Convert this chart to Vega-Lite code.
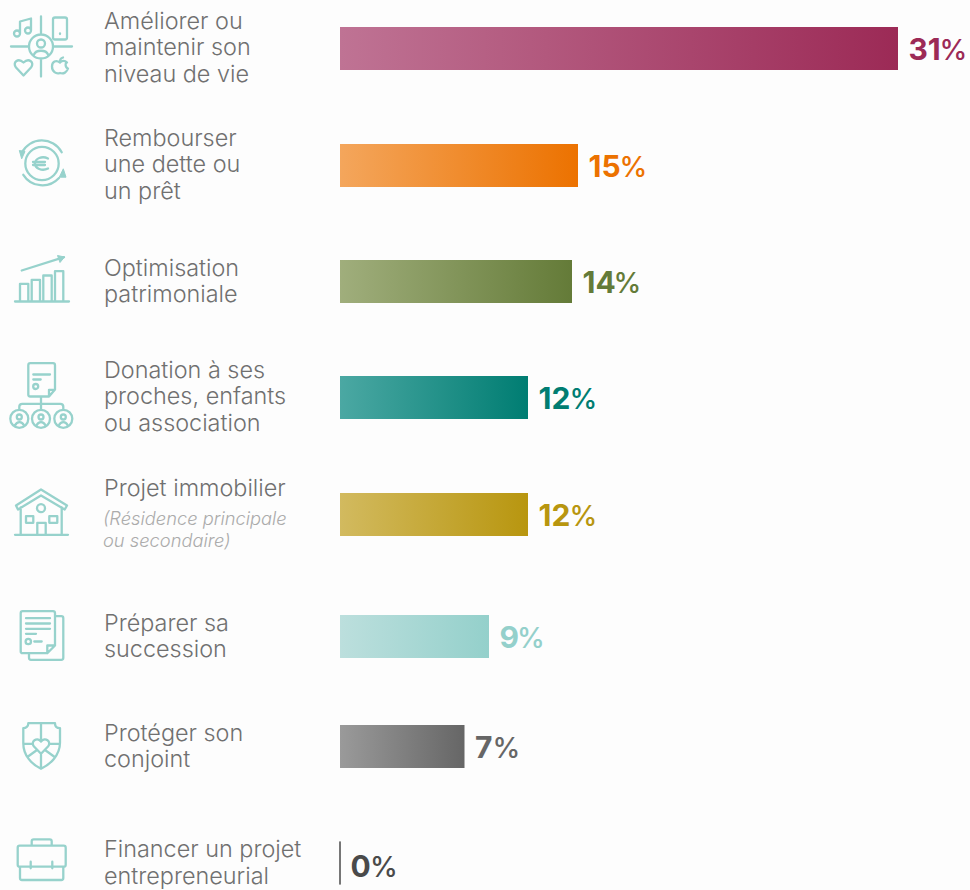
{
  "$schema": "https://vega.github.io/schema/vega-lite/v6.json",
  "width": 970,
  "height": 890,
  "padding": 0,
  "autosize": {"type": "fit", "contains": "padding"},
  "background": "#fdfdfd",
  "view": {"stroke": null},
  "config": {"font": "Inter"},
  "datasets": {
    "motifs": [
      {"rang": 1, "motif": "Niveau de vie", "lignes": ["Améliorer ou", "maintenir son", "niveau de vie"], "valeur": 31},
      {"rang": 2, "motif": "Dette", "lignes": ["Rembourser", "une dette ou", "un prêt"], "valeur": 15},
      {"rang": 3, "motif": "Patrimoine", "lignes": ["Optimisation", "patrimoniale"], "valeur": 14},
      {"rang": 4, "motif": "Donation", "lignes": ["Donation à ses", "proches, enfants", "ou association"], "valeur": 12},
      {"rang": 5, "motif": "Immobilier", "lignes": ["Projet immobilier"], "precision": ["(Résidence principale", "ou secondaire)"], "valeur": 12},
      {"rang": 6, "motif": "Succession", "lignes": ["Préparer sa", "succession"], "valeur": 9},
      {"rang": 7, "motif": "Conjoint", "lignes": ["Protéger son", "conjoint"], "valeur": 7},
      {"rang": 8, "motif": "Entreprise", "lignes": ["Financer un projet", "entrepreneurial"], "valeur": 0}
    ]
  },
  "data": {"name": "motifs"},
  "encoding": {
    "y": {
      "field": "rang",
      "type": "quantitative",
      "axis": null,
      "scale": {"domain": [1, 2, 3, 4, 5, 6, 7, 8], "range": [48.5, 165.5, 281.5, 397.5, 514.5, 636.5, 746.5, 863], "zero": false, "nice": false, "padding": 0}
    },
    "x": {
      "field": "valeur",
      "type": "quantitative",
      "axis": null,
      "scale": {"domain": [0, 7, 9, 12, 14, 15, 31], "range": [340, 464.5, 489, 528, 572, 578, 898], "zero": false, "nice": false}
    }
  },
  "layer": [
    {
      "transform": [{"filter": "datum.rang === 1"}],
      "mark": {"type": "bar", "orient": "horizontal", "height": 43, "color": {"gradient": "linear", "x1": 0, "x2": 1, "y1": 0, "y2": 0, "stops": [{"offset": 0, "color": "#bf7394"}, {"offset": 1, "color": "#9c2a56"}]}},
      "encoding": {"x2": {"datum": 0}}
    },
    {
      "transform": [{"filter": "datum.rang === 2"}],
      "mark": {"type": "bar", "orient": "horizontal", "height": 43, "color": {"gradient": "linear", "x1": 0, "x2": 1, "y1": 0, "y2": 0, "stops": [{"offset": 0, "color": "#f4a65c"}, {"offset": 1, "color": "#ec7200"}]}},
      "encoding": {"x2": {"datum": 0}}
    },
    {
      "transform": [{"filter": "datum.rang === 3"}],
      "mark": {"type": "bar", "orient": "horizontal", "height": 43, "color": {"gradient": "linear", "x1": 0, "x2": 1, "y1": 0, "y2": 0, "stops": [{"offset": 0, "color": "#a0ae7c"}, {"offset": 1, "color": "#647b38"}]}},
      "encoding": {"x2": {"datum": 0}}
    },
    {
      "transform": [{"filter": "datum.rang === 4"}],
      "mark": {"type": "bar", "orient": "horizontal", "height": 43, "color": {"gradient": "linear", "x1": 0, "x2": 1, "y1": 0, "y2": 0, "stops": [{"offset": 0, "color": "#4ba8a3"}, {"offset": 1, "color": "#007d72"}]}},
      "encoding": {"x2": {"datum": 0}}
    },
    {
      "transform": [{"filter": "datum.rang === 5"}],
      "mark": {"type": "bar", "orient": "horizontal", "height": 43, "color": {"gradient": "linear", "x1": 0, "x2": 1, "y1": 0, "y2": 0, "stops": [{"offset": 0, "color": "#d2ba5f"}, {"offset": 1, "color": "#b8960f"}]}},
      "encoding": {"x2": {"datum": 0}}
    },
    {
      "transform": [{"filter": "datum.rang === 6"}],
      "mark": {"type": "bar", "orient": "horizontal", "height": 43, "color": {"gradient": "linear", "x1": 0, "x2": 1, "y1": 0, "y2": 0, "stops": [{"offset": 0, "color": "#bcdfdd"}, {"offset": 1, "color": "#94d0cb"}]}},
      "encoding": {"x2": {"datum": 0}}
    },
    {
      "transform": [{"filter": "datum.rang === 7"}],
      "mark": {"type": "bar", "orient": "horizontal", "height": 43, "color": {"gradient": "linear", "x1": 0, "x2": 1, "y1": 0, "y2": 0, "stops": [{"offset": 0, "color": "#9a9a9a"}, {"offset": 1, "color": "#666666"}]}},
      "encoding": {"x2": {"datum": 0}}
    },
    {
      "transform": [{"filter": "datum.valeur === 0"}],
      "mark": {"type": "bar", "orient": "horizontal", "height": 43, "stroke": "#4a4a4a", "strokeWidth": 1},
      "encoding": {"x2": {"datum": 0}}
    },
    {
      "transform": [{"filter": "datum.lignes.length === 3"}],
      "mark": {"type": "text", "align": "left", "baseline": "middle", "dx": -236, "dy": -27, "fontSize": 23.4, "fontWeight": 300, "lineHeight": 26.6, "color": "#707070"},
      "encoding": {"x": {"datum": 0}, "text": {"field": "lignes"}}
    },
    {
      "transform": [{"filter": "datum.lignes.length === 2"}],
      "mark": {"type": "text", "align": "left", "baseline": "middle", "dx": -236, "dy": -13, "fontSize": 23.4, "fontWeight": 300, "lineHeight": 26.6, "color": "#707070"},
      "encoding": {"x": {"datum": 0}, "text": {"field": "lignes"}}
    },
    {
      "transform": [{"filter": "datum.rang === 5"}],
      "mark": {"type": "text", "align": "left", "baseline": "middle", "dx": -236, "dy": -26, "fontSize": 23.4, "fontWeight": 300, "color": "#707070"},
      "encoding": {"x": {"datum": 0}, "text": {"field": "lignes"}}
    },
    {
      "transform": [{"filter": "datum.rang === 5"}],
      "mark": {"type": "text", "align": "left", "baseline": "middle", "dx": -237, "dy": 5.5, "fontSize": 18.3, "fontWeight": 300, "fontStyle": "italic", "lineHeight": 22, "color": "#ababab"},
      "encoding": {"x": {"datum": 0}, "text": {"field": "precision"}}
    },
    {
      "transform": [{"filter": "datum.valeur > 0"}],
      "mark": {"type": "text", "align": "left", "baseline": "alphabetic", "dx": 10.5, "dy": 11, "fontSize": 30, "fontWeight": 700},
      "encoding": {
        "text": {"field": "valeur", "type": "quantitative"},
        "color": {
          "field": "motif",
          "type": "nominal",
          "legend": null,
          "scale": {
            "domain": ["Niveau de vie", "Dette", "Patrimoine", "Donation", "Immobilier", "Succession", "Conjoint", "Entreprise"],
            "range": ["#9c2a56", "#ec7200", "#647b38", "#007d72", "#b8960f", "#94d0cb", "#666666", "#4a4a4a"]
          }
        }
      }
    },
    {
      "transform": [{"filter": "datum.valeur === 0"}],
      "mark": {"type": "text", "align": "left", "baseline": "alphabetic", "dx": 10.5, "dy": 14, "fontSize": 30, "fontWeight": 700},
      "encoding": {
        "text": {"field": "valeur", "type": "quantitative"},
        "color": {"field": "motif", "type": "nominal", "legend": null}
      }
    },
    {
      "transform": [{"filter": "datum.valeur >= 10"}],
      "mark": {"type": "text", "align": "left", "baseline": "alphabetic", "dx": 41.5, "dy": 11, "fontSize": 28, "fontWeight": 500, "text": "%"},
      "encoding": {"color": {"field": "motif", "type": "nominal", "legend": null}}
    },
    {
      "transform": [{"filter": "datum.valeur < 10 && datum.valeur > 0"}],
      "mark": {"type": "text", "align": "left", "baseline": "alphabetic", "dx": 28, "dy": 11, "fontSize": 28, "fontWeight": 500, "text": "%"},
      "encoding": {"color": {"field": "motif", "type": "nominal", "legend": null}}
    },
    {
      "transform": [{"filter": "datum.valeur === 0"}],
      "mark": {"type": "text", "align": "left", "baseline": "alphabetic", "dx": 30, "dy": 14, "fontSize": 28, "fontWeight": 500, "text": "%"},
      "encoding": {"color": {"field": "motif", "type": "nominal", "legend": null}}
    },
    {
      "mark": {"type": "point", "filled": false, "size": 4, "xOffset": -298, "stroke": "#97d2cc", "strokeWidth": 2.3, "strokeCap": "round", "strokeJoin": "round", "opacity": 1},
      "encoding": {
        "x": {"datum": 0},
        "shape": {
          "field": "motif",
          "type": "nominal",
          "legend": null,
          "scale": {
            "domain": ["Niveau de vie", "Dette", "Patrimoine", "Donation", "Immobilier", "Succession", "Conjoint", "Entreprise"],
            "range": [
              "M-13 -2A12 12 0 1 0 11 -2A12 12 0 1 0 -13 -2M-31 -2H-13M11 -2H30M-1 -32V-14M-1 10V28M-5 -5A4 4 0 1 0 3 -5A4 4 0 1 0 -5 -5M-8 6C-6 1 4 1 6 6M-22 -15V-27L-11 -30V-18M-28 -15A3 3 0 1 0 -22 -15A3 3 0 1 0 -28 -15M-17 -18A3 3 0 1 0 -11 -18A3 3 0 1 0 -17 -18M13 -31H23Q25 -31 25 -29V-11Q25 -9 23 -9H13Q11 -9 11 -11V-29Q11 -31 13 -31M18 -15V-14.5M-18.5 27L-26 19C-30 14 -24 9 -18.5 14C-13 9 -7 14 -11 19ZM18 14C14 11 10 13 10 18C10 23 14 26 18 24.5C22 26 25 23 26 20C23 19 23 14 25 14C23 12 20 12 18 14M18 13C18 11 19 9.5 21 9",
              "M-16.7 -2A16.7 16.7 0 1 0 16.7 -2A16.7 16.7 0 1 0 -16.7 -2M-20.3 -12.7A22.6 22.6 0 0 1 19.7 -13.3M-18.7 9.3A22.6 22.6 0 0 0 17 12.5M6 -7C0 -10 -7 -7 -7 -2C-7 3 0 6 6 3M-9 -3.5H3M-9 -0.5H3",
              "M-27 20H27M-22 20V2.3H-13.7V20M-10.3 20V-1.7H-2V20M1.3 20V-6H9.7V20M13 20V-10.3H21.3V20M-20.3 -11L22 -24.3",
              "M7 -1H-11.7Q-13.7 -1 -13.7 -3V-32.3Q-13.7 -34.3 -11.7 -34.3H11Q13 -34.3 13 -32.3V-8L7 -1V-7.7H13M-8.7 -23H8M-8.7 -18H-1.3M-8.8 -11A2.5 2.5 0 1 0 -3.8 -11A2.5 2.5 0 1 0 -8.8 -11M-1 -1V6.3M-22.7 12.3V9.3Q-22.7 6.3 -19.7 6.3H18.3Q21.3 6.3 21.3 9.3V12.3M-1 6.3V12.3M-31.7 21.3A9 9 0 1 0 -13.7 21.3A9 9 0 1 0 -31.7 21.3M-10 21.3A9 9 0 1 0 8 21.3A9 9 0 1 0 -10 21.3M12.3 21.3A9 9 0 1 0 30.3 21.3A9 9 0 1 0 12.3 21.3M-25.2 19.5A2.5 2.5 0 1 0 -20.2 19.5A2.5 2.5 0 1 0 -25.2 19.5M-3.5 19.5A2.5 2.5 0 1 0 1.5 19.5A2.5 2.5 0 1 0 -3.5 19.5M18.8 19.5A2.5 2.5 0 1 0 23.8 19.5A2.5 2.5 0 1 0 18.8 19.5M-27 28C-25 23.5 -20 23.5 -18 28M-5.5 28C-3.5 23.5 1.5 23.5 3.5 28M16.8 28C18.8 23.5 23.8 23.5 25.8 28",
              "M-1 -25L-26 -9L-24 -5L-1 -19L22.7 -5L25 -9ZM-21.3 -7V20.3M19.7 -7V20.3M-27 20.3H26M-5 -6.3A4 4 0 1 0 3 -6.3A4 4 0 1 0 -5 -6.3M-16 1.7H-8.7V8.3H-16ZM7.3 1.7H15.3V8.3H7.3ZM-4.7 20.3V8.3H3.7V20.3",
              "M5.3 16.7H-19.3Q-21.3 16.7 -21.3 14.7V-23.3Q-21.3 -25.3 -19.3 -25.3H11Q13 -25.3 13 -23.3V9L5.3 16.7V9H13M13 -20.3H19.3Q21.3 -20.3 21.3 -18.3V21.3Q21.3 23.3 19.3 23.3H-11Q-13 23.3 -13 21.3V16.7M-16 -18.3H8M-16 -13H8M-16 -7.7H8M-16 -2.7H-6M-16.4 5A2.7 2.7 0 1 0 -11 5A2.7 2.7 0 1 0 -16.4 5M-7.7 5H-0.3",
              "M-13.7 -23.3H13C13 -20 15 -18.3 18 -18.3V-4C18 9 8 18 -1 22.3C-10 18 -19 9 -18.7 -4V-18.3C-16 -18.3 -13.7 -20 -13.7 -23.3ZM-1 -23.3V-6M-1 7.3V22.3M-18.7 -2.7H-9.7M8 -2.7H18M-1 7.3L-8 0C-12 -5 -5 -10 -1 -5C3 -10 10 -5 6 0ZM-5 3.5L-14 10M3 3.5L12 10",
              "M-22.3 -17.3H21.7Q23.7 -17.3 23.7 -15.3V1.7Q23.7 3.7 21.7 3.7H-22.3Q-24.3 3.7 -24.3 1.7V-15.3Q-24.3 -17.3 -22.3 -17.3ZM-10.3 -17.3V-21.7Q-10.3 -23.7 -8.3 -23.7H7.7Q9.7 -23.7 9.7 -21.7V-17.3M-22 3.7V15Q-22 17 -20 17H19.3Q21.3 17 21.3 15V3.7M-11.3 -1.3V5.3M10.3 -1.3V5.3"
            ]
          }
        }
      }
    },
    {
      "transform": [{"filter": "datum.rang === 2 || datum.rang === 3"}],
      "mark": {"type": "point", "filled": true, "size": 4, "xOffset": -298, "fill": "#97d2cc", "stroke": "#97d2cc", "strokeWidth": 1, "strokeJoin": "round", "opacity": 1},
      "encoding": {
        "x": {"datum": 0},
        "shape": {
          "field": "motif",
          "type": "nominal",
          "legend": null,
          "scale": {
            "domain": ["Dette", "Patrimoine"],
            "range": [
              "M-22.7 -15L-17 -14L-20.3 -6.7ZM21.3 3.3L24 11.7L17.3 11.7Z",
              "M15.5 -26L22.5 -24.5L18 -19Z"
            ]
          }
        }
      }
    }
  ],
  "resolve": {"scale": {"shape": "independent"}}
}
